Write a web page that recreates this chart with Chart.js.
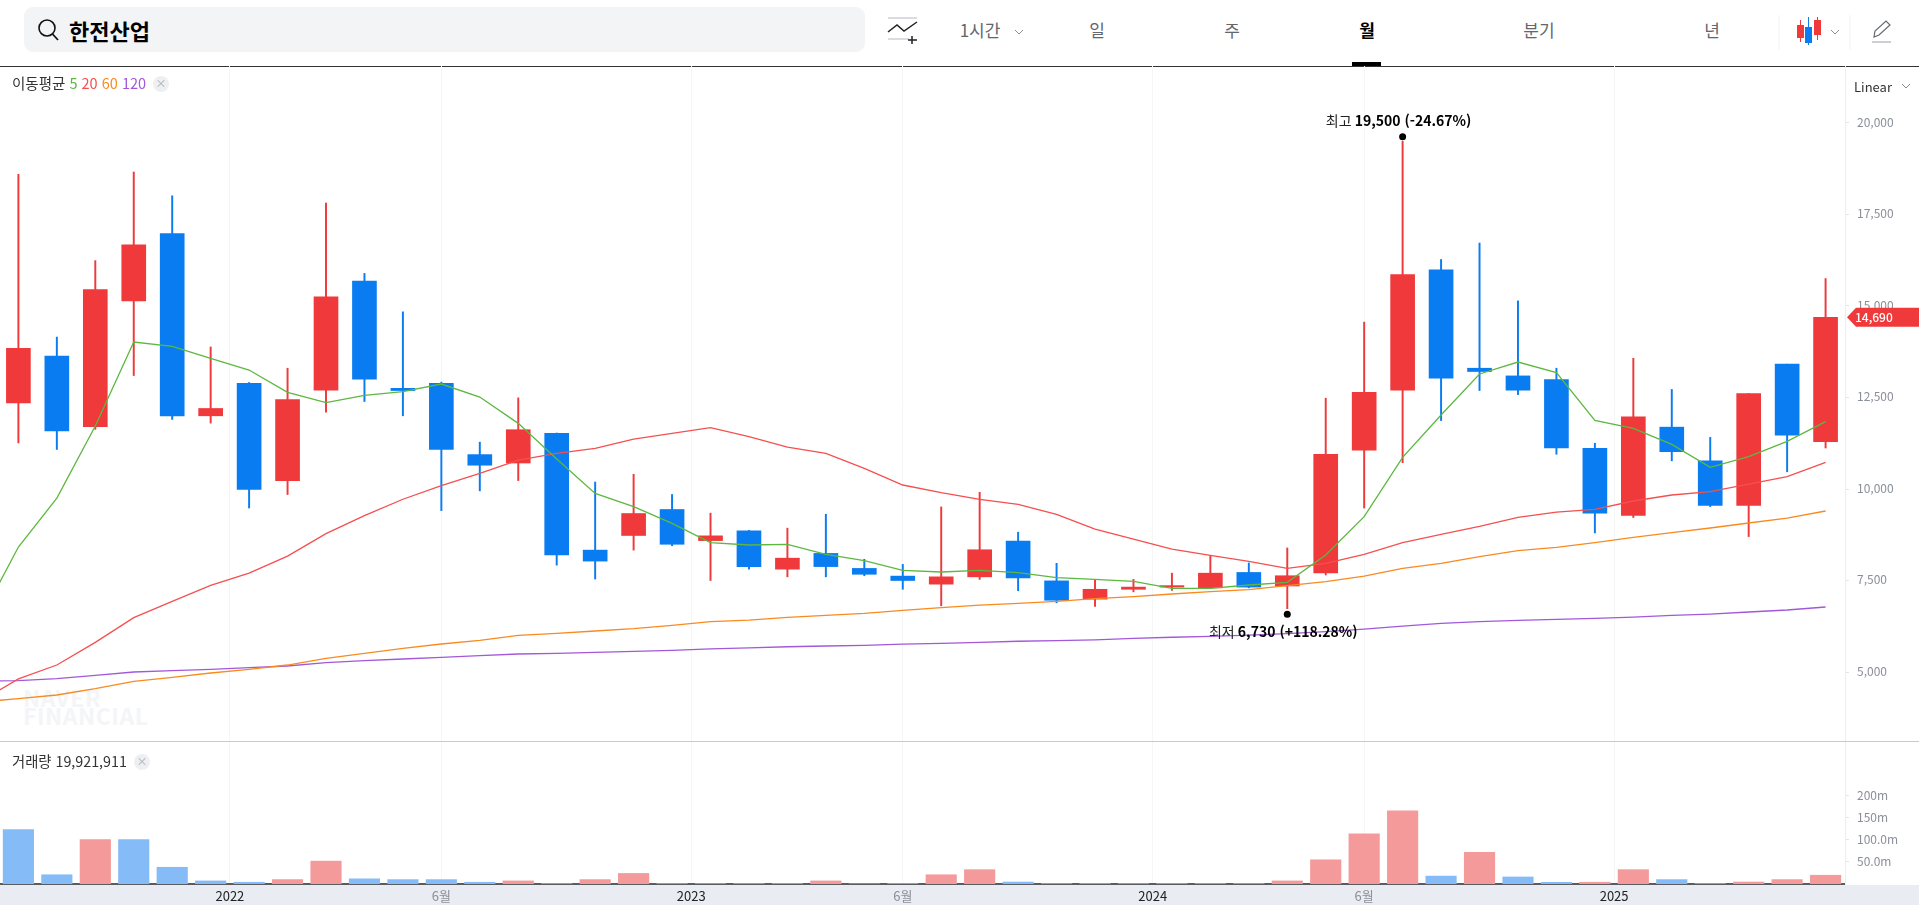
<!DOCTYPE html>
<html lang="ko"><head><meta charset="utf-8"><title>한전산업</title>
<script src="https://cdn.jsdelivr.net/npm/chart.js@4/dist/chart.umd.js"></script>
<style>
html,body{margin:0;padding:0;background:#fff;width:1919px;height:905px;overflow:hidden;font-family:'Noto Sans CJK KR','Noto Sans',sans-serif}
.a{position:absolute;white-space:nowrap}
.tab{position:absolute;top:17px;font-size:17px;line-height:25px;color:#62666d;transform:translateX(-50%)}
canvas{position:absolute;left:0;display:block}
.x{position:absolute;width:16px;height:16px;border-radius:50%;background:#eeeff1;color:#a9adb3;font-size:11px;line-height:15px;text-align:center}
</style></head><body>
<div class="a" style="left:24px;top:7px;width:841px;height:45px;background:#f3f4f6;border-radius:9px"></div>
<svg class="a" style="left:0;top:0" width="1919" height="66" fill="none">
<circle cx="47" cy="28" r="8" stroke="#111" stroke-width="1.6"/><path d="M52.5 34 L58 40" stroke="#111" stroke-width="1.8"/>
<path d="M888 18H917M888 39H909" stroke="#d9dce1" stroke-width="2"/><path d="M888 32L897 25L904 31L917 22" stroke="#222" stroke-width="1.5"/><path d="M912 36V44M908 40H917" stroke="#222" stroke-width="1.5"/>
<path d="M1015 30l4 4 4-4" stroke="#888c93"/><path d="M1779 15V50M1850 15V50" stroke="#f2f3f5"/>
<path d="M1800.5 20V42" stroke="#f0393b"/><rect x="1797" y="25" width="7" height="13" fill="#f0393b"/>
<path d="M1808.5 17V45" stroke="#0a7cf2"/><rect x="1805" y="27" width="7" height="16" fill="#0a7cf2"/>
<path d="M1817.5 17V40" stroke="#f0393b"/><rect x="1814" y="20" width="7" height="15" fill="#f0393b"/>
<path d="M1831 30l4 4 4-4" stroke="#888c93"/>
<path d="M1874 37l1-6 11-10 4 4-11 10z" stroke="#666a70" stroke-width="1.2"/><path d="M1872 42H1891" stroke="#a9adb3" stroke-width="1.2"/>
</svg>
<div class="a" style="left:69px;top:15px;font-size:22px;line-height:30px;font-weight:700;color:#000">한전산업</div>
<div class="tab" style="left:980px">1시간</div><div class="tab" style="left:1097px">일</div><div class="tab" style="left:1232px">주</div>
<div class="tab" style="left:1367px;color:#000;font-weight:700">월</div><div class="tab" style="left:1539px">분기</div><div class="tab" style="left:1712px">년</div>
<div class="a" style="left:1352px;top:62px;width:29px;height:4px;background:#000"></div>
<div class="a" style="left:0;top:66px;width:1919px;height:1px;background:#333"></div>
<div class="a" style="left:0;top:741px;width:1919px;height:1px;background:#c9c9d1"></div>
<div class="a" style="left:0;top:885px;width:1919px;height:20px;background:#e9ecf2"></div>
<div class="a" style="left:23px;top:688px;font-size:23px;line-height:18px;font-weight:700;color:#f4f5f7;letter-spacing:.5px">NAVER<br>FINANCIAL</div>
<canvas id="price" width="1919" height="675" style="top:66px;width:1919px;height:675px"></canvas>
<canvas id="vol" width="1919" height="163" style="top:742px;width:1919px;height:163px"></canvas>
<div class="a" style="left:12px;top:73px;font-size:14.5px;line-height:20px;color:#333">이동평균 <span style="color:#5cb83f">5</span> <span style="color:#f45050">20</span> <span style="color:#f98a1f">60</span> <span style="color:#a259d9">120</span></div>
<div class="x" style="left:153px;top:76px">×</div>
<div class="a" style="left:12px;top:751px;font-size:14.3px;line-height:20px;color:#333">거래량 19,921,911</div>
<div class="x" style="left:134px;top:754px">×</div>
<div class="a" style="left:1854px;top:77px;font-size:13px;line-height:20px;color:#333">Linear</div>
<svg class="a" style="left:1898px;top:80px" width="16" height="14" fill="none"><path d="M4 4l4 4 4-4" stroke="#888c93"/></svg>
<script>
const FONT="'Noto Sans CJK KR','Noto Sans',sans-serif";
const xTickPositions=[5.5,11,17.5,23,29.5,35,41.5];
const xTickLabels=['2022','6월','2023','6월','2024','6월','2025'];
const priceTicks=[5000,7500,10000,12500,15000,17500,20000];
const volTicks=[50,100,150,200];
const volTickLabels=['50.0m','100.0m','150m','200m'];
const opens =[12350,13630,11700,15140,16980,12000,12890,10230,12700,15680,12750,12890,10940,10710,11520,8330,8730,9440,8590,8860,7810,8240,7830,7620,7400,7600,8580,7490,6990,7260,7320,7300,7720,7350,7710,11060,12700,15990,13300,13090,12990,11110,9280,11690,10770,9550,13410,11290];
const highs =[18600,14150,16240,18660,18010,13880,12910,13300,17810,15890,14840,12920,11280,12490,11530,10190,10400,9850,9340,8870,8930,9310,8080,7940,9510,9910,8820,7970,7520,7530,7700,8180,7980,8390,12480,14560,19500,16270,16720,15140,13300,11250,13570,12720,11410,12610,13410,15750];
const lows  =[11260,11080,11630,13100,11900,11800,9480,9850,12100,12390,12000,9410,9950,10230,7920,7540,8330,8450,7500,7810,7600,7600,7630,7260,6810,7530,7220,6890,6790,7190,7230,7280,7300,6730,7650,9480,10720,11870,12690,12580,10950,8800,9220,10770,9520,8700,10470,11120];
const closes=[13840,11590,15450,16670,12000,12200,9990,12440,15250,13000,12690,11080,10650,11620,8200,8030,9330,8490,8720,7880,8110,7880,7670,7500,7600,8340,7570,6960,7260,7320,7360,7700,7320,7630,10950,12640,15860,13030,13210,12700,11120,9340,11970,11020,9550,12610,11470,14690];
// moving averages: first value belongs to the month just left of the view
const ma5=[6420,8415,9750,11720,14015,13897,13569,13250,12640,12358,12558,12658,12868,12513,11793,10818,9880,9520,9062,8533,8470,8488,8214,8041,7777,7732,7777,7714,7577,7531,7477,7286,7286,7377,7449,8196,9244,10865,12021,13142,13469,13178,11876,11657,11220,10591,10883,11302,11839];
const ma20=[4190,4810,5191,5811,6485,6930,7365,7700,8168,8780,9272,9720,10090,10427,10791,10974,11110,11365,11520,11675,11429,11147,10974,10564,10109,9899,9717,9580,9307,8907,8633,8360,8187,8023,7832,7968,8214,8533,8761,8980,9225,9371,9444,9672,9836,9927,10136,10337,10728];
const ma60=[4180,4272,4372,4545,4745,4854,4973,5073,5191,5373,5510,5647,5765,5865,6002,6057,6120,6184,6275,6375,6420,6493,6548,6602,6684,6757,6830,6876,6930,7003,7058,7131,7195,7249,7358,7468,7622,7832,7968,8151,8315,8406,8533,8679,8807,8934,9071,9207,9399];
const ma120=[4754,4763,4818,4909,5000,5037,5073,5118,5164,5255,5310,5355,5401,5446,5492,5510,5537,5565,5592,5630,5660,5690,5710,5730,5760,5780,5810,5840,5860,5880,5920,5950,5974,6010,6047,6102,6174,6256,6329,6375,6411,6438,6466,6502,6548,6584,6639,6694,6776];
const volumes=[123.5,21,101,101,38,7,4,10,52,12,10,10,4,7,1,10,24,1,1,1,1,7,0.5,1,21,32.6,4.5,1,1,1,1,1,1,7,55,114,166,18,72,16,4,4,32.6,10,1,4.5,10,19.92];
const volUp=[0,0,1,0,0,0,0,1,1,0,0,0,0,1,0,1,1,0,0,0,1,1,0,1,1,1,0,0,1,0,1,1,0,1,1,1,1,0,1,0,0,1,1,0,0,1,1,1];
const highIdx=36, lowIdx=33;
const highNote=['최고 ','19,500 (-24.67%)'], lowNote=['최저 ','6,730 (+118.28%)'];
const lastLabel='14,690';

const RED='#f0393b',BLUE='#0a7cf2',GRID='#f5f6f8',TICKC='#8b8f98';
const XMIN=-0.4785,XMAX=47.505;
const isUp=closes.map((c,i)=>c>=opens[i]);
const cCol=isUp.map(u=>u?RED:BLUE);
const lineDs=(arr,col,ord)=>({type:'line',data:arr.map((v,i)=>({x:i-1,y:v})),borderColor:col,borderWidth:1.3,pointRadius:0,tension:0,order:ord,yAxisID:'y',xAxisID:'x'});
const zeroPad=s=>{s.paddingTop=0;s.paddingBottom=0;s.paddingLeft=0;s.paddingRight=0;};
const rightAxis=(min,max,vals,labels)=>({position:'right',min,max,
  afterBuildTicks:s=>{s.ticks=vals.map(v=>({value:v}));},
  afterFit:s=>{s.width=74;zeroPad(s);},
  grid:{drawOnChartArea:false,drawTicks:true,tickLength:4,tickColor:'#e4e5e9'},
  border:{display:true,color:'#eceDf0',width:1},
  ticks:{autoSkip:false,padding:8,labelOffset:-1,color:TICKC,font:{family:FONT,size:12},callback:(v,i)=>labels?labels[i]:v.toLocaleString('en-US')}});

const notes={id:'notes',afterDraw(c){
  const g=c.ctx,x=c.scales.x,y=c.scales.y;
  const note=(idx,val,parts,dotOff,textY)=>{
    const px=x.getPixelForValue(idx),py=y.getPixelForValue(val)+dotOff;
    g.save();g.fillStyle='#000';g.beginPath();g.arc(px,py,3.5,0,7);g.fill();
    g.textBaseline='middle';
    g.font='14px '+FONT;const w0=g.measureText(parts[0]).width;
    g.font='700 14px '+FONT;const w1=g.measureText(parts[1]).width;
    let sx=px-(w0+w1)/2-4;
    g.font='14px '+FONT;g.fillStyle='#222';g.fillText(parts[0],sx,py+textY);
    g.font='700 14px '+FONT;g.fillStyle='#000';g.fillText(parts[1],sx+w0,py+textY);
    g.restore();};
  note(highIdx,highs[highIdx],highNote,-4.5,-16);
  note(lowIdx,lows[lowIdx],lowNote,5.5,18);
  const ly=y.getPixelForValue(closes[closes.length-1]);
  g.save();g.fillStyle=RED;g.beginPath();g.moveTo(1847,ly);g.lineTo(1856,ly-9.5);g.lineTo(1919,ly-9.5);g.lineTo(1919,ly+9.5);g.lineTo(1856,ly+9.5);g.closePath();g.fill();
  g.fillStyle='#fff';g.font='500 12px '+FONT;g.textBaseline='middle';g.fillText(lastLabel,1855,ly);g.restore();
}};

new Chart(document.getElementById('price'),{type:'bar',plugins:[notes],data:{datasets:[
  lineDs(ma5,'#5cb83f',1),lineDs(ma20,'#f45050',2),lineDs(ma60,'#f98a1f',3),lineDs(ma120,'#a259d9',4),
  {type:'bar',data:opens.map((o,i)=>({x:i,y:[o,closes[i]]})),backgroundColor:cCol,barThickness:24,grouped:false,order:5,borderWidth:0},
  {type:'bar',data:highs.map((h,i)=>({x:i,y:[lows[i],h]})),backgroundColor:cCol,barThickness:1.3,grouped:false,order:6,borderWidth:0}
]},options:{responsive:false,animation:false,events:[],layout:{padding:0},
  plugins:{legend:{display:false},tooltip:{enabled:false}},
  scales:{
    x:{type:'linear',offset:false,min:XMIN,max:XMAX,
      afterBuildTicks:s=>{s.ticks=xTickPositions.map(v=>({value:v}));},
      afterFit:s=>{s.height=0;zeroPad(s);},
      grid:{color:GRID,drawTicks:false,offset:false},border:{display:false},ticks:{display:false}},
    y:rightAxis(3115,21557,priceTicks,null)
  }}});

new Chart(document.getElementById('vol'),{type:'bar',data:{datasets:[
  {data:volumes.map((v,i)=>({x:i,y:v})),backgroundColor:volUp.map(u=>u?'#f59a9b':'#85bcf8'),barThickness:30.5,grouped:false,borderWidth:0}
]},options:{responsive:false,animation:false,events:[],layout:{padding:0},
  plugins:{legend:{display:false},tooltip:{enabled:false}},
  scales:{
    x:{type:'linear',offset:false,min:XMIN,max:XMAX,
      afterBuildTicks:s=>{s.ticks=xTickPositions.map(v=>({value:v}));},
      afterFit:s=>{s.height=21;zeroPad(s);},
      grid:{color:GRID,drawTicks:false,offset:false},border:{display:true,color:'#5a5c60',width:2},
      ticks:{autoSkip:false,maxRotation:0,padding:4,font:{family:FONT,size:13},
        color:c=>/월/.test(xTickLabels[c.index])?TICKC:'#222',
        callback:(v,i)=>xTickLabels[i]}},
    y:rightAxis(0,322.7,volTicks,volTickLabels)
  }}});
</script>
</body></html>
